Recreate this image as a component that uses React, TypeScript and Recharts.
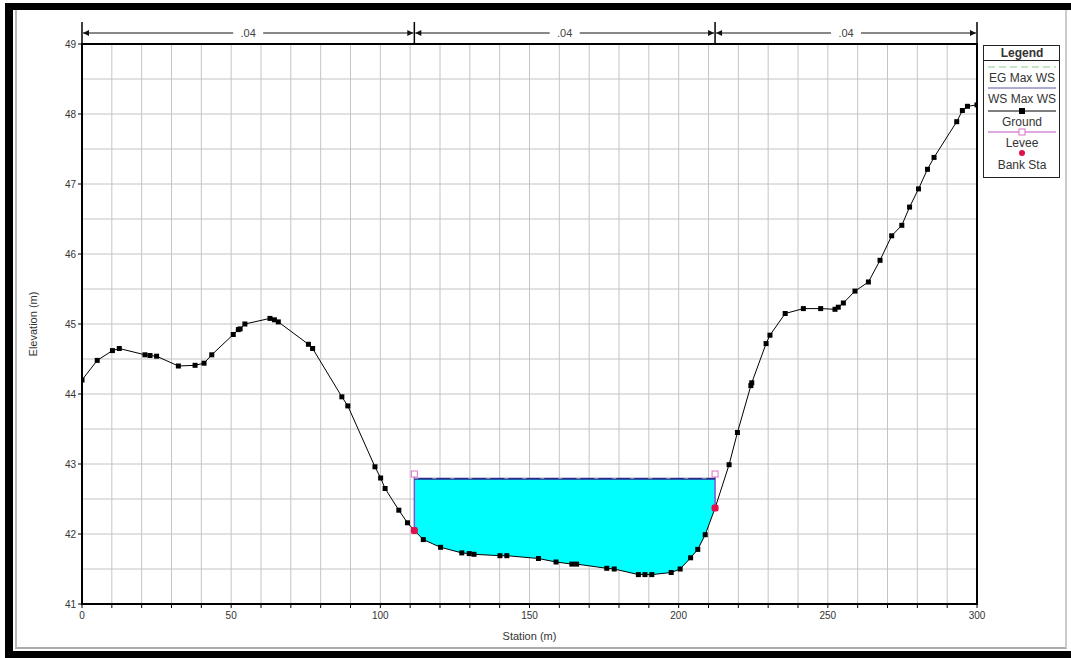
import React from "react";
import {
  ComposedChart,
  Line,
  Area,
  XAxis,
  YAxis,
  CartesianGrid,
  ReferenceLine,
  ReferenceArea,
} from "recharts";

// ground profile (station m, elevation m)
const stations = [
  0, 5.1, 10.2, 12.5, 21.1, 22.8, 25.0, 32.3, 37.9, 40.9, 43.5, 50.7, 52.4, 53.0,
  54.6, 63.0, 64.5, 65.8, 75.9, 77.3, 87.1, 89.1, 98.2, 100.1, 101.6, 106.2, 109.1,
  111.4, 114.4, 120.2, 127.3, 129.8, 131.4, 140.1, 142.4, 153.0, 158.9, 164.2, 165.8,
  175.9, 178.4, 186.5, 188.7, 191.0, 197.5, 200.5, 204.0, 206.4, 208.9, 212.2, 216.9,
  219.7, 224.2, 224.5, 229.3, 230.6, 235.7, 241.8, 247.6, 252.4, 253.5, 255.2, 259.1,
  263.6, 267.5, 271.4, 274.8, 277.4, 280.4, 283.4, 285.6, 293.2, 295.1, 296.8, 300,
];
const elevations = [
  44.2, 44.48, 44.62, 44.65, 44.56, 44.55, 44.54, 44.4, 44.41, 44.44, 44.56, 44.85, 44.92, 44.93,
  45.0, 45.08, 45.06, 45.03, 44.71, 44.65, 43.96, 43.83, 42.96, 42.8, 42.65, 42.34, 42.16,
  42.05, 41.92, 41.81, 41.73, 41.72, 41.71, 41.69, 41.69, 41.65, 41.6, 41.57, 41.57,
  41.51, 41.5, 41.42, 41.42, 41.42, 41.45, 41.5, 41.66, 41.78, 41.99, 42.37, 42.99,
  43.45, 44.12, 44.16, 44.72, 44.84, 45.15, 45.22, 45.22, 45.21, 45.24, 45.3, 45.47,
  45.6, 45.91, 46.26, 46.41, 46.67, 46.93, 47.21, 47.38, 47.89, 48.05, 48.11, 48.13,
];

const wsElevation = 42.79;
const egElevation = 42.8;
const bankStations = [111.4, 212.2];
const bankElevations = [42.05, 42.37];
const leveeStations = [111.4, 212.2];
const leveeElevations = [42.85, 42.85];

// Manning's n regions along the top
const nValues = [".04", ".04", ".04"];
const nBreaks = [0, 111.4, 212.2, 300];

const xTicks = [0, 10, 20, 30, 40, 50, 60, 70, 80, 90, 100, 110, 120, 130, 140, 150, 160, 170, 180, 190, 200, 210, 220, 230, 240, 250, 260, 270, 280, 290, 300];
const xLabelTicks = [0, 50, 100, 150, 200, 250, 300];
const yTicks = [41, 42, 43, 44, 45, 46, 47, 48, 49];
const yGridLines = [41, 41.5, 42, 42.5, 43, 43.5, 44, 44.5, 45, 45.5, 46, 46.5, 47, 47.5, 48, 48.5, 49];

const chartData = stations.map((x, i) => ({
  x,
  ground: elevations[i],
  water: x >= bankStations[0] && x <= bankStations[1] ? [elevations[i], wsElevation] : null,
}));

const wsLine = [
  { x: bankStations[0], y: wsElevation },
  { x: bankStations[1], y: wsElevation },
];
const egLine = [
  { x: bankStations[0], y: egElevation },
  { x: bankStations[1], y: egElevation },
];
const leveeLines = leveeStations.map((s, i) => [
  { x: s, y: bankElevations[i], top: false },
  { x: s, y: leveeElevations[i], top: true },
]);
const bankPoints = bankStations.map((s, i) => ({ x: s, y: bankElevations[i] }));

const N_ARROW_Y = 49.157;
const N_TICK_TOP = 49.314;

const FONT = '"Liberation Sans", Arial, sans-serif';

const GroundDot = (props: any) => {
  const { cx, cy, index } = props;
  return <rect key={`g${index}`} x={cx - 2.5} y={cy - 2.5} width={5} height={5} fill="#000" />;
};

const LeveeDot = (props: any) => {
  const { cx, cy, index, payload } = props;
  if (!payload.top) return <g key={`l${index}`} />;
  return (
    <rect key={`l${index}`} x={cx - 3} y={cy - 3.5} width={6} height={6} fill="#fff" stroke="#e070c8" strokeWidth={1} />
  );
};

const BankDot = (props: any) => {
  const { cx, cy, index } = props;
  return <rect key={`b${index}`} x={cx - 3.5} y={cy - 3.5} width={7} height={7} rx={2} fill="#e0104c" />;
};

const NSpan = (props: any) => {
  const { x1, y1, x2, text } = props;
  const mid = (x1 + x2) / 2;
  return (
    <g>
      <line x1={x1 + 1} y1={y1} x2={x2 - 1} y2={y1} stroke="#111" strokeWidth={1} />
      <polygon points={`${x1 + 1},${y1} ${x1 + 7},${y1 - 3} ${x1 + 7},${y1 + 3}`} fill="#111" />
      <polygon points={`${x2 - 1},${y1} ${x2 - 7},${y1 - 3} ${x2 - 7},${y1 + 3}`} fill="#111" />
      <rect x={mid - 15} y={y1 - 6} width={30} height={12} fill="#fff" />
      <text x={mid} y={y1 + 4} textAnchor="middle" fontSize={11} fill="#444" fontFamily={FONT}>
        {text}
      </text>
    </g>
  );
};

const XTick = (props: any) => {
  const { x, y, payload } = props;
  if (!xLabelTicks.includes(payload.value)) return <g />;
  return (
    <text x={x} y={y + 9} textAnchor="middle" fontSize={10} fill="#333" fontFamily={FONT}>
      {payload.value}
    </text>
  );
};

function LegendBox() {
  const t = { fontSize: 12, fill: "#333", fontFamily: FONT, textAnchor: "middle" as const };
  return (
    <svg
      width={79}
      height={135}
      style={{ position: "absolute", left: 982, top: 44 }}
    >
      <rect x={1.5} y={1.5} width={76} height={132} fill="#fff" stroke="#222" strokeWidth={1} />
      <line x1={1.5} y1={16.5} x2={77.5} y2={16.5} stroke="#222" />
      <text x={40} y={13} {...t} fontWeight="bold">Legend</text>
      <line x1={6} y1={23} x2={74} y2={23} stroke="#8cc88c" strokeDasharray="7 4" />
      <text x={40} y={38} {...t}>EG Max WS</text>
      <line x1={6} y1={44} x2={74} y2={44} stroke="#5a5aa8" />
      <text x={40} y={59} {...t}>WS Max WS</text>
      <line x1={6} y1={67} x2={74} y2={67} stroke="#000" />
      <rect x={37} y={64} width={6} height={6} fill="#000" />
      <text x={40} y={82} {...t}>Ground</text>
      <line x1={6} y1={88} x2={74} y2={88} stroke="#c050c0" />
      <rect x={37} y={85} width={6} height={6} fill="#fff" stroke="#e070c8" />
      <text x={40} y={103} {...t}>Levee</text>
      <circle cx={40} cy={109} r={3} fill="#e0104c" />
      <text x={40} y={125} {...t}>Bank Sta</text>
    </svg>
  );
}

export default function App() {
  return (
    <div
      style={{
        position: "absolute",
        left: 0,
        top: 0,
        width: 1071,
        height: 658,
        background: "#fff",
        fontFamily: FONT,
        overflow: "hidden",
      }}
    >
      <div style={{ position: "absolute", left: 5, top: 3, width: 1066, height: 7, background: "#000" }} />
      <div style={{ position: "absolute", left: 5, top: 3, width: 8, height: 655, background: "#000" }} />
      <div style={{ position: "absolute", left: 5, top: 651, width: 1066, height: 7, background: "#000" }} />
      <div
        style={{
          position: "absolute",
          left: 15,
          top: 10,
          width: 1048,
          height: 637,
          borderLeft: "2px solid #bbb",
          borderRight: "2px solid #ccc",
          borderBottom: "2px solid #aaa",
        }}
      />
      <div style={{ position: "absolute", left: 0, top: 0 }}>
        <ComposedChart
          width={1071}
          height={658}
          data={chartData}
          margin={{ top: 44, right: 94, bottom: 14, left: 22 }}
        >
          <CartesianGrid
            stroke="#c4c4c4"
            horizontalValues={yGridLines}
            verticalValues={xTicks}
          />
          <XAxis
            dataKey="x"
            type="number"
            domain={[0, 300]}
            ticks={xTicks}
            interval={0}
            allowDataOverflow
            axisLine={false}
            tickLine={{ stroke: "#000" }}
            tickSize={4}
            height={40}
            tick={<XTick />}
            label={{ value: "Station (m)", position: "insideBottom", offset: 4, fontSize: 11, fill: "#333" }}
          />
          <YAxis
            type="number"
            domain={[41, 49]}
            ticks={yTicks}
            interval={0}
            allowDataOverflow
            axisLine={false}
            tickLine={{ stroke: "#000" }}
            tickSize={4}
            width={60}
            tick={{ fontSize: 10, fill: "#333" }}
            label={{
              value: "Elevation (m)",
              angle: -90,
              position: "insideLeft",
              offset: 11,
              fontSize: 11,
              fill: "#333",
              style: { textAnchor: "middle" },
            }}
          />
          <Area
            dataKey="water"
            type="linear"
            stroke="none"
            fill="#00ffff"
            fillOpacity={1}
            isAnimationActive={false}
            connectNulls={false}
          />
          <Line
            dataKey="ground"
            type="linear"
            stroke="#000"
            strokeWidth={1}
            dot={<GroundDot />}
            activeDot={false}
            isAnimationActive={false}
          />
          {leveeLines.map((d, i) => (
            <Line
              key={`lev${i}`}
              data={d}
              dataKey="y"
              type="linear"
              stroke="#8a4cd0"
              strokeWidth={1.5}
              dot={<LeveeDot />}
              activeDot={false}
              isAnimationActive={false}
            />
          ))}
          <Line
            data={wsLine}
            dataKey="y"
            type="linear"
            stroke="#2a2a8c"
            strokeWidth={2}
            dot={false}
            activeDot={false}
            isAnimationActive={false}
          />
          <Line
            data={egLine}
            dataKey="y"
            type="linear"
            stroke="#c8e8d0"
            strokeWidth={1}
            strokeDasharray="4 14"
            dot={false}
            activeDot={false}
            isAnimationActive={false}
          />
          <Line
            data={bankPoints}
            dataKey="y"
            type="linear"
            stroke="none"
            dot={<BankDot />}
            activeDot={false}
            isAnimationActive={false}
          />
          <ReferenceArea
            x1={0}
            x2={300}
            y1={41}
            y2={49}
            fill="none"
            fillOpacity={0}
            stroke="#000"
            strokeWidth={2}
            ifOverflow="visible"
          />
          {nValues.map((v, i) => (
            <ReferenceLine
              key={`n${i}`}
              segment={[
                { x: nBreaks[i], y: N_ARROW_Y },
                { x: nBreaks[i + 1], y: N_ARROW_Y },
              ]}
              ifOverflow="visible"
              shape={(p: any) => <NSpan {...p} text={v} />}
            />
          ))}
          {nBreaks.map((b, i) => (
            <ReferenceLine
              key={`nb${i}`}
              segment={[
                { x: b, y: 49 },
                { x: b, y: N_TICK_TOP },
              ]}
              stroke="#000"
              strokeWidth={1.5}
              ifOverflow="visible"
            />
          ))}
        </ComposedChart>
      </div>
      <LegendBox />
    </div>
  );
}
